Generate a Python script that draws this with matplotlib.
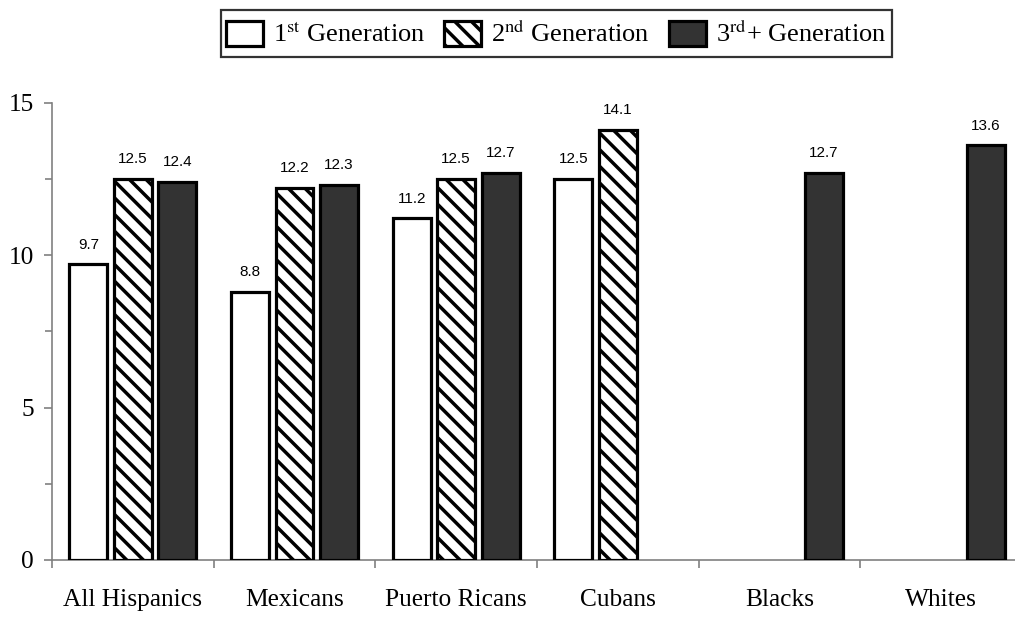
import numpy as np
import matplotlib
matplotlib.use("Agg")
import matplotlib.pyplot as plt
from matplotlib.patches import Patch, Rectangle
from matplotlib.legend_handler import HandlerPatch

categories = ["All Hispanics", "Mexicans", "Puerto Ricans", "Cubans", "Blacks", "Whites"]
gen1 = [9.7, 8.8, 11.2, 12.5, np.nan, np.nan]
gen2 = [12.5, 12.2, 12.5, 14.1, np.nan, np.nan]
gen3 = [12.4, 12.3, 12.7, np.nan, 12.7, 13.6]
series_labels = [r"1$^{\mathrm{st}}$ Generation", r"2$^{\mathrm{nd}}$ Generation",
                 r"3$^{\mathrm{rd}}$+ Generation"]
yticks = [0, 5, 10, 15]

plt.rcParams["mathtext.fontset"] = "stix"
plt.rcParams["hatch.linewidth"] = 2.5
plt.rcParams["hatch.color"] = "black"
serif = ["Liberation Serif", "DejaVu Serif"]

fig = plt.figure(figsize=(10.15, 6.18), dpi=100)
ax = fig.add_axes([52 / 1015, 58 / 618, (1022 - 52) / 1015, (560 - 102.5) / 618])

x = np.arange(len(categories))
w = 0.235
off = 0.275
styles = [
    dict(facecolor="white", hatch=None),
    dict(facecolor="white", hatch="\\\\"),
    dict(facecolor="#333333", hatch=None),
]
for i, (vals, st) in enumerate(zip([gen1, gen2, gen3], styles)):
    vals = np.array(vals, dtype=float)
    pos = x + (i - 1) * off
    mask = ~np.isnan(vals)
    bars = ax.bar(pos[mask], vals[mask], width=w, facecolor=st["facecolor"],
                  edgecolor="black", linewidth=2.3, hatch=st["hatch"], zorder=3)
    for b, v in zip(bars, vals[mask]):
        ax.annotate(f"{v:.1f}", (b.get_x() + b.get_width() / 2, v),
                    xytext=(0, 9), textcoords="offset points", ha="center", va="bottom",
                    fontsize=11, family=["Liberation Sans", "DejaVu Sans"])

ax.set_xlim(-0.5, len(categories) - 0.5)
ax.set_ylim(0, 15)
ax.set_yticks(yticks)
ax.set_yticks([2.5, 7.5, 12.5], minor=True)
ax.set_xticks(x)
ax.set_xticklabels(categories, family=serif, fontsize=18.3)
ax.set_xticks(np.arange(len(categories) + 1) - 0.5, minor=True)
ax.set_yticklabels([str(t) for t in yticks], family=serif, fontsize=18.3)

for s in ["top", "right"]:
    ax.spines[s].set_visible(False)
for s in ["left", "bottom"]:
    ax.spines[s].set_color("#808080")
    ax.spines[s].set_linewidth(1.2)

ax.tick_params(axis="x", which="major", length=0, pad=21)
ax.tick_params(axis="x", which="minor", length=6, color="#808080", width=1.2, direction="out")
ax.tick_params(axis="y", which="major", length=6, color="#808080", width=1.2, pad=7)
ax.tick_params(axis="y", which="minor", length=5, color="#808080", width=1.2)

HANDLE_H = 18.5  # points


def make_rect(legend, orig_handle, xdescent, ydescent, width, height, fontsize):
    return Rectangle((-xdescent, -ydescent + (height - HANDLE_H) / 2), width, HANDLE_H)


handles = [Patch(facecolor=st["facecolor"], edgecolor="black", linewidth=2.3, hatch=st["hatch"])
           for st in styles]
leg = fig.legend(handles, series_labels, loc="center", bbox_to_anchor=(0.548, 0.946),
                 ncol=3, frameon=True, fancybox=False, prop={"family": serif, "size": 19},
                 handlelength=1.4, handleheight=1.75, handletextpad=0.38, columnspacing=0.72,
                 borderpad=0.2, borderaxespad=0, edgecolor="black",
                 handler_map={Patch: HandlerPatch(patch_func=make_rect)})
leg.get_frame().set_linewidth(1.6)

fig.savefig("out.png", dpi=100)
